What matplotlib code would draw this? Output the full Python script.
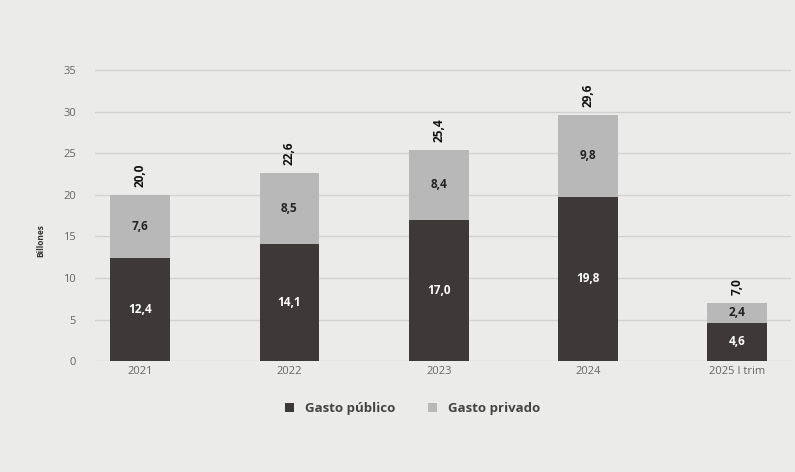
import matplotlib
matplotlib.use('Agg')
import matplotlib.pyplot as plt

plt.rcParams['font.family'] = ['Open Sans', 'DejaVu Sans']

years = ['2021', '2022', '2023', '2024', '2025 I trim']
publico = [12.4, 14.1, 17.0, 19.8, 4.6]
privado = [7.6, 8.5, 8.4, 9.8, 2.4]
totales = [20.0, 22.6, 25.4, 29.6, 7.0]

def fmt(v):
    return ('%.1f' % v).replace('.', ',')

bg = '#ebebea'
c_pub = '#3d3939'
c_priv = '#b9b8b8'

fig = plt.figure(figsize=(7.95, 4.72), dpi=100, facecolor=bg)
ax = fig.add_axes([0.12, 0.235, 0.875, 0.625], facecolor=bg)

x = list(range(len(years)))
ax.bar(x, publico, width=0.4, color=c_pub, label='Gasto público', zorder=3)
ax.bar(x, privado, width=0.4, bottom=publico, color=c_priv, label='Gasto privado', zorder=3)

for i in x:
    ax.text(i, publico[i] / 2, fmt(publico[i]), ha='center', va='center',
            color='white', fontsize=8.5, fontweight='bold', zorder=4)
    ax.text(i, publico[i] + privado[i] / 2, fmt(privado[i]), ha='center', va='center',
            color='#222222', fontsize=8.5, fontweight='bold', zorder=4)
    ax.text(i, totales[i] + 1.0, fmt(totales[i]), ha='center', va='bottom', rotation=90,
            color='#111111', fontsize=8.5, fontweight='bold', zorder=4)

ax.set_xlim(-0.3, 4.36)
ax.set_ylim(0, 35.5)
ax.set_yticks(range(0, 36, 5))
ax.set_xticks(x)
ax.set_xticklabels(years)
ax.tick_params(axis='both', length=0, labelsize=8, colors='#666666')
ax.tick_params(axis='y', pad=14)
ax.grid(axis='y', color='#d2d2d2', linewidth=1, zorder=0)
for s in ax.spines.values():
    s.set_visible(False)

ax.set_ylabel('Billones', fontsize=6, color='#333333', fontweight='bold')
ax.yaxis.set_label_coords(-0.072, 0.41)

ax.legend(loc='upper center', bbox_to_anchor=(0.456, -0.1), ncol=2, frameon=False,
          handlelength=0.7, handleheight=0.7, columnspacing=2.5,
          prop={'weight': 'bold', 'size': 9.5})
for t in ax.get_legend().get_texts():
    t.set_color('#444444')

fig.savefig('out.png', dpi=100, facecolor=bg)
